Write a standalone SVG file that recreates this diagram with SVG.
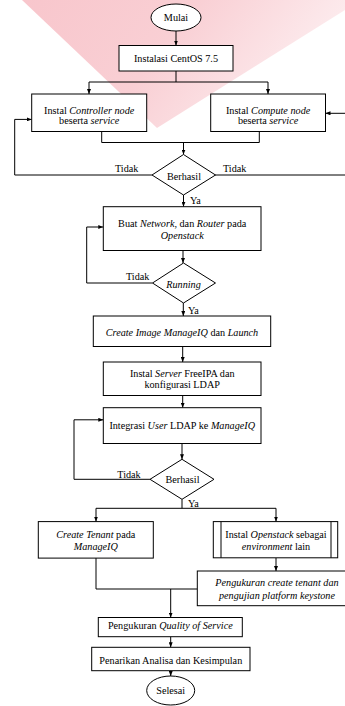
<svg xmlns="http://www.w3.org/2000/svg" width="345" height="706" viewBox="0 0 345 706" font-family="'Liberation Serif', 'DejaVu Serif', 'Times New Roman', serif">
<defs>
<marker id="arr" viewBox="0 0 5 4" refX="5" refY="2" markerWidth="5" markerHeight="4" markerUnits="userSpaceOnUse" orient="auto">
<path d="M0,0 L5,2 L0,4 z" fill="#000"/>
</marker>
<linearGradient id="wm" x1="0" y1="0" x2="1" y2="0.3">
<stop offset="0" stop-color="#f8c6cc"/>
<stop offset="0.5" stop-color="#f9cfd4"/>
<stop offset="1" stop-color="#fdeef0"/>
</linearGradient>
</defs>
<style>
.b{fill:#fff;stroke:#000;stroke-width:1}
.c{fill:none;stroke:#000;stroke-width:1}
.a{marker-end:url(#arr)}
text{font-family:'Liberation Serif','DejaVu Serif','Times New Roman',serif;font-size:10.2px;fill:#000;text-anchor:middle}
.l{text-anchor:start}
.i{font-style:italic}
</style>
<polygon id="watermark" points="22,0 345,0 345,10 157,128" fill="url(#wm)"/>
<g id="connectors">
<path class="c a" d="M176,31 V45.5"/>
<path class="c" d="M176,71 V82 M89,82 H268"/>
<path class="c a" d="M89,82 V94"/>
<path class="c a" d="M268,82 V94"/>
<path class="c" d="M101.7,131.5 V142.5 H259.3 V131.5"/>
<path class="c a" d="M183.5,142.5 V154.5"/>
<path class="c a" d="M152,175 H14.7 V119.4 H31.7"/>
<path class="c a" d="M215,175 H350 V113.3 H325.5"/>
<path class="c a" d="M183.5,195 V206.7"/>
<path class="c a" d="M183,250.5 V263"/>
<path class="c a" d="M152.5,283 H86.7 V227 H103.3"/>
<path class="c a" d="M183.3,303 V316"/>
<path class="c a" d="M182.7,346.5 V362"/>
<path class="c a" d="M182.7,395.5 V407.7"/>
<path class="c a" d="M182,443.5 V459.3"/>
<path class="c a" d="M150,479.3 H74 V419.8 H103.3"/>
<path class="c" d="M182,499.3 V508.3 M96,508.3 H276"/>
<path class="c a" d="M96,508.3 V521.6"/>
<path class="c a" d="M276,508.3 V521.6"/>
<path class="c a" d="M276,558 V571"/>
<path class="c" d="M96,558 V589 H197.3"/>
<path class="c a" d="M170.7,589 V617.5"/>
<path class="c a" d="M170.7,636.7 V647.3"/>
<path class="c a" d="M170.7,670.7 V676"/>
</g>
<g id="labels">
<text class="l" x="115" y="171.5">Tidak</text>
<text class="l" x="223" y="171.5">Tidak</text>
<text class="l" x="190" y="203.5">Ya</text>
<text class="l" x="126" y="279.5">Tidak</text>
<text class="l" x="188" y="313.5">Ya</text>
<text class="l" x="117.3" y="478">Tidak</text>
<text class="l" x="188" y="507">Ya</text>
</g>
<g id="start">
<ellipse class="b" cx="176" cy="17.5" rx="25" ry="13.5"/>
<text x="176" y="21">Mulai</text>
</g>
<g id="centos">
<rect class="b" x="119" y="45.5" width="114" height="25.5"/>
<text x="176" y="62">Instalasi CentOS 7.5</text>
</g>
<g id="controller">
<rect class="b" x="31.7" y="94" width="115" height="37.5"/>
<text x="89.2" y="113.5">Instal <tspan class="i">Controller node</tspan></text>
<text x="89.2" y="124">beserta <tspan class="i">service</tspan></text>
</g>
<g id="compute">
<rect class="b" x="210.7" y="94" width="114.8" height="37.5"/>
<text x="268.1" y="113.5">Instal <tspan class="i">Compute node</tspan></text>
<text x="268.1" y="124">beserta <tspan class="i">service</tspan></text>
</g>
<g id="decision1">
<polygon class="b" points="183.5,154.5 215.5,175 183.5,195 152,175"/>
<text x="184" y="180">Berhasil</text>
</g>
<g id="network">
<rect class="b" x="103.3" y="206.7" width="157.7" height="43.8"/>
<text x="182.2" y="227">Buat <tspan class="i">Network</tspan>, dan <tspan class="i">Router</tspan> pada</text>
<text x="182.2" y="239" class="i">Openstack</text>
</g>
<g id="running">
<polygon class="b" points="183.5,263 215.5,283 183.5,303 152.5,283"/>
<text x="183.5" y="288" class="i">Running</text>
</g>
<g id="image">
<rect class="b" x="93.3" y="316" width="177.4" height="30.5"/>
<text x="182" y="335.5"><tspan class="i">Create Image ManageIQ</tspan> dan <tspan class="i">Launch</tspan></text>
</g>
<g id="freeipa">
<rect class="b" x="103.3" y="362" width="157.7" height="33.5"/>
<text x="182.2" y="376.5">Instal <tspan class="i">Server</tspan> FreeIPA dan</text>
<text x="182.2" y="388">konfigurasi LDAP</text>
</g>
<g id="ldap">
<rect class="b" x="103.3" y="407.7" width="157.7" height="35.8"/>
<text x="182.2" y="429">Integrasi <tspan class="i">User</tspan> LDAP ke <tspan class="i">ManageIQ</tspan></text>
</g>
<g id="decision2">
<polygon class="b" points="182,459.3 214,479.3 182,499.3 150,479.3"/>
<text x="182.5" y="483">Berhasil</text>
</g>
<g id="tenant">
<rect class="b" x="38.3" y="521.6" width="115" height="36.5"/>
<text x="95.8" y="537.5"><tspan class="i">Create Tenant</tspan> pada</text>
<text x="95.8" y="549.5" class="i">ManageIQ</text>
</g>
<g id="openstack">
<rect class="b" x="213.3" y="521.6" width="124.4" height="36.2"/>
<path class="c" d="M221,521.6 V557.8 M331,521.6 V557.8"/>
<text x="276" y="537.5">Instal <tspan class="i">Openstack</tspan> sebagai</text>
<text x="276" y="549.5"><tspan class="i">environment</tspan> lain</text>
</g>
<g id="keystone">
<rect class="b" x="197.3" y="571" width="160" height="34.7"/>
<text x="277" y="586" class="i">Pengukuran create tenant dan</text>
<text x="277" y="598.7" class="i">pengujian platform keystone</text>
</g>
<g id="qos">
<rect class="b" x="98.3" y="617.5" width="144" height="19.2"/>
<text x="170.3" y="628.5">Pengukuran <tspan class="i">Quality of Service</tspan></text>
</g>
<g id="conclusion">
<rect class="b" x="91.7" y="647.3" width="158.3" height="23.4"/>
<text x="170.8" y="664">Penarikan Analisa dan Kesimpulan</text>
</g>
<g id="end">
<ellipse class="b" cx="170.7" cy="690.5" rx="24" ry="14.5"/>
<text x="170.7" y="694">Selesai</text>
</g>
</svg>
